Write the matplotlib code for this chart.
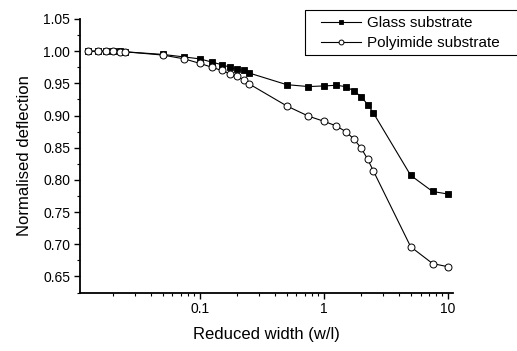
import matplotlib
matplotlib.use("Agg")
import matplotlib.pyplot as plt
from matplotlib.patches import Rectangle
from matplotlib.ticker import LogLocator, FixedLocator, MultipleLocator, FuncFormatter

plt.rcParams['font.family'] = ['Liberation Sans', 'DejaVu Sans']

# Reduced width (w/l)
glass_x = [0.0125, 0.015, 0.0175, 0.02, 0.0225, 0.025, 0.05, 0.075, 0.1, 0.125,
           0.15, 0.175, 0.2, 0.225, 0.25, 0.5, 0.75, 1.0, 1.25, 1.5, 1.75, 2.0,
           2.25, 2.5, 5.0, 7.5, 10.0]
glass_y = [1.000, 1.000, 1.000, 1.000, 1.000, 0.999, 0.995, 0.991, 0.988, 0.983,
           0.979, 0.975, 0.972, 0.970, 0.966, 0.948, 0.945, 0.946, 0.947, 0.945,
           0.938, 0.929, 0.917, 0.904, 0.807, 0.782, 0.778]

poly_x = glass_x
poly_y = [1.000, 1.000, 1.000, 1.000, 0.999, 0.999, 0.994, 0.988, 0.981, 0.975,
          0.970, 0.965, 0.961, 0.955, 0.949, 0.915, 0.899, 0.891, 0.884, 0.875,
          0.863, 0.849, 0.832, 0.814, 0.696, 0.670, 0.665]

y_ticks = [0.65, 0.70, 0.75, 0.80, 0.85, 0.90, 0.95, 1.00, 1.05]
x_ticks = [0.1, 1, 10]
x_tick_labels = ["0.1", "1", "10"]

W, H = 517, 351
fig = plt.figure(figsize=(W / 100, H / 100), dpi=100)
ax = fig.add_axes([80 / W, 1 - 292.5 / H, (452.7 - 80) / W, (292.5 - 19) / H])

ax.plot(glass_x, glass_y, color='black', lw=0.8, marker='s', ms=4.6,
        mfc='black', mec='black', mew=0.6, label='Glass substrate', zorder=3)
ax.plot(poly_x, poly_y, color='black', lw=0.8, marker='o', ms=5.0,
        mfc='white', mec='black', mew=0.7, label='Polyimide substrate', zorder=4)

ax.set_xscale('log')
ax.set_xlim(0.0108, 10.9)
ax.set_ylim(0.625, 1.05)

ax.xaxis.set_major_locator(FixedLocator(x_ticks))
ax.xaxis.set_major_formatter(FuncFormatter(lambda v, p: dict(zip(x_ticks, x_tick_labels)).get(v, "")))
ax.xaxis.set_minor_locator(LogLocator(base=10, subs=range(2, 10), numticks=20))
ax.yaxis.set_major_locator(FixedLocator(y_ticks))
ax.yaxis.set_major_formatter(FuncFormatter(lambda v, p: f"{v:.2f}"))
ax.yaxis.set_minor_locator(MultipleLocator(0.025))

for s in ('top', 'right'):
    ax.spines[s].set_visible(False)
for s in ('left', 'bottom'):
    ax.spines[s].set_linewidth(1.3)

ax.tick_params(which='major', direction='out', length=4, width=1.0, labelsize=10, pad=3)
ax.tick_params(which='minor', direction='out', length=2.5, width=0.8)

ax.set_xlabel('Reduced width (w/l)', fontsize=12, labelpad=8)
ax.set_ylabel('Normalised deflection', fontsize=12, labelpad=8)

# Legend frame runs off the right edge of the figure
fig.patches.append(Rectangle((305 / W, 1 - 55 / H), 240 / W, 45 / H,
                             transform=fig.transFigure, fill=False,
                             edgecolor='black', linewidth=0.8))
leg = fig.legend(loc='upper left', bbox_to_anchor=(321 / W, 1 - 16 / H),
                 fontsize=11, frameon=False, borderaxespad=0, borderpad=0,
                 handlelength=2.6, handletextpad=0.4, labelspacing=0.42,
                 markerscale=0.7)

fig.savefig('out.png', dpi=100)
